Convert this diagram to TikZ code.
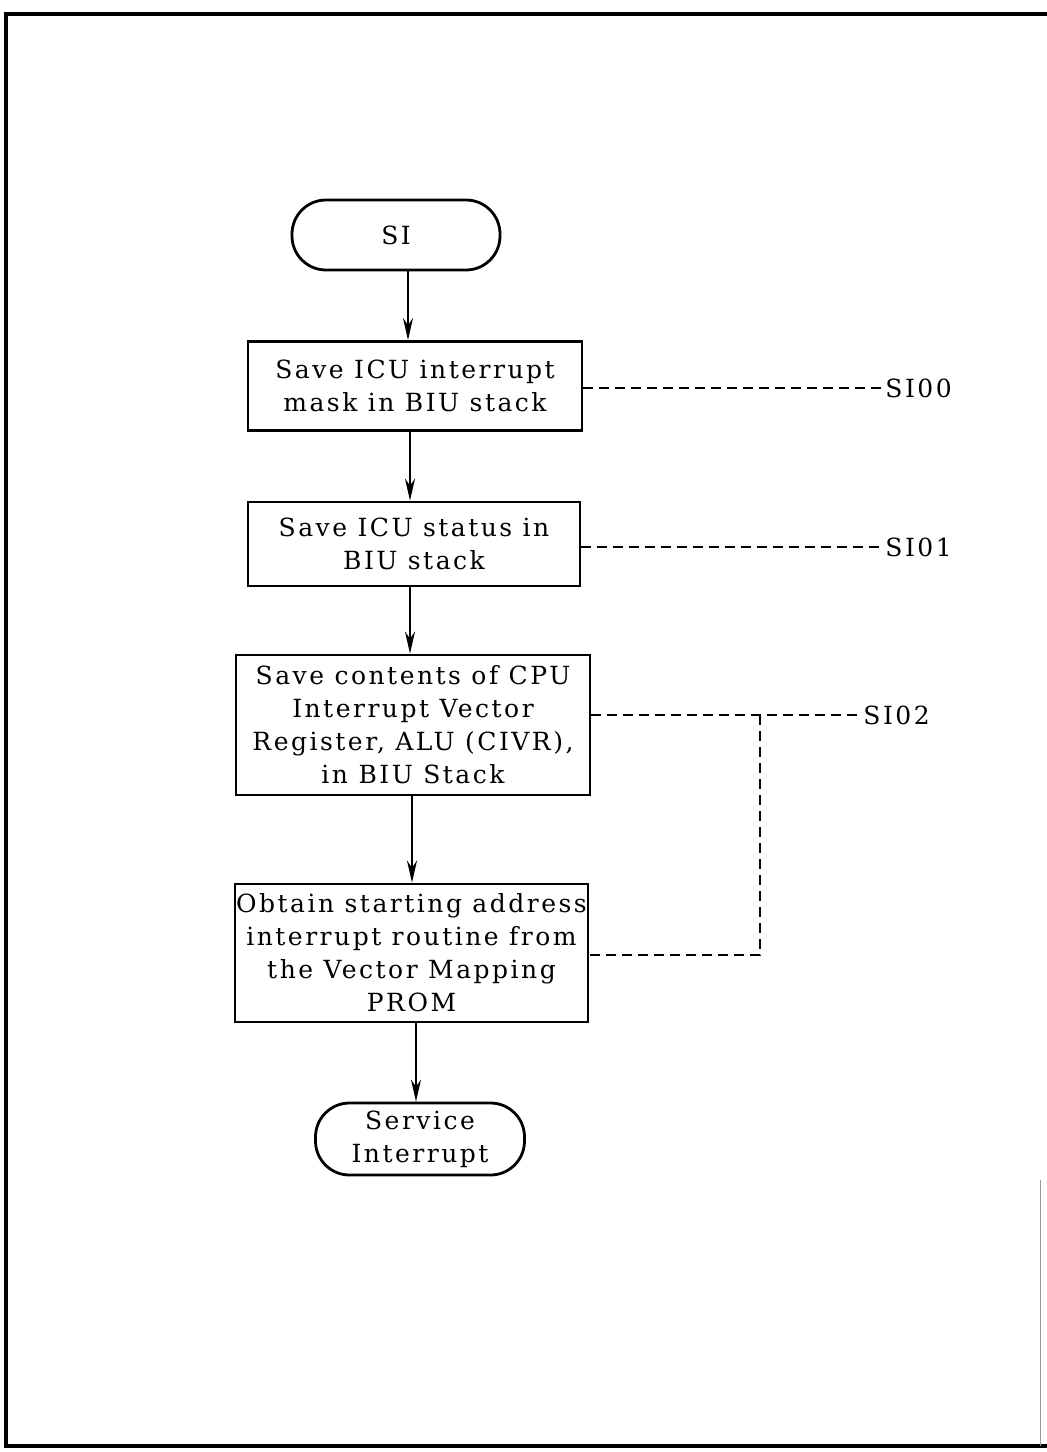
\documentclass[tikz,border=0pt]{standalone}
\usepackage{fontspec}
\setmainfont{DejaVu Serif}[LetterSpace=10]
\usetikzlibrary{arrows.meta}
\begin{document}
\begin{tikzpicture}[x=0.5pt,y=-0.5pt,
  txt/.style={font=\fontsize{12.5}{16.5}\selectfont},
  box/.style={txt, draw, line width=1.4pt, rectangle, inner sep=0pt, align=center},
  term/.style={txt, draw, line width=1.4pt, rectangle, rounded corners=17pt, inner sep=0pt, align=center},
  flow/.style={-{Stealth[length=11pt,width=5pt]}, line width=1.2pt},
  link/.style={dash pattern=on 5pt off 3pt, line width=1.1pt},
  lab/.style={txt, anchor=west, inner sep=0pt}]
\useasboundingbox (0,0) rectangle (1047,1452);
% frame
\draw[line width=1.8pt] (1047,14) -- (6,14) -- (6,1446) -- (1047,1446);
\draw[black!40, line width=0.5pt] (1040,1180) -- (1040,1446);

\node[term, minimum width=104pt, minimum height=35pt] (si) at (396,235) {SI};
\node[box, minimum width=167pt, minimum height=44.5pt] (b1) at (415,386)
  {Save ICU interrupt\\mask in BIU stack};
\node[box, minimum width=166pt, minimum height=42pt] (b2) at (414,544)
  {Save ICU status in\\BIU stack};
\node[box, minimum width=177pt, minimum height=70pt] (b3) at (413,725)
  {Save contents of CPU\\Interrupt Vector\\Register, ALU (CIVR),\\in BIU Stack};
\node[box, minimum width=176.5pt, minimum height=69pt] (b4) at (411.5,953)
  {Obtain starting address\\interrupt routine from\\the Vector Mapping\\PROM};
\node[term, minimum width=104.5pt, minimum height=36pt] (si2) at (420,1139)
  {Service\\Interrupt};

\draw[flow] (si.south -| 408,0) -- (b1.north -| 408,0);
\draw[flow] (b1.south -| 410,0) -- (b2.north -| 410,0);
\draw[flow] (b2.south -| 410,0) -- (b3.north -| 410,0);
\draw[flow] (b3.south -| 412,0) -- (b4.north -| 412,0);
\draw[flow] (b4.south -| 416,0) -- (si2.north -| 416,0);

\node[lab] (l0) at (885,388) {SI00};
\node[lab] (l1) at (885,547) {SI01};
\node[lab] (l2) at (863,715) {SI02};
\coordinate (k) at (760,715);

\draw[link] (b1.east |- l0.west) -- (l0.west);
\draw[link] (b2.east |- l1.west) -- (l1.west);
\draw[link] (b3.east |- l2.west) -- (l2.west);
\draw[link] (k) |- (b4.east |- 0,955);
\end{tikzpicture}
\end{document}
